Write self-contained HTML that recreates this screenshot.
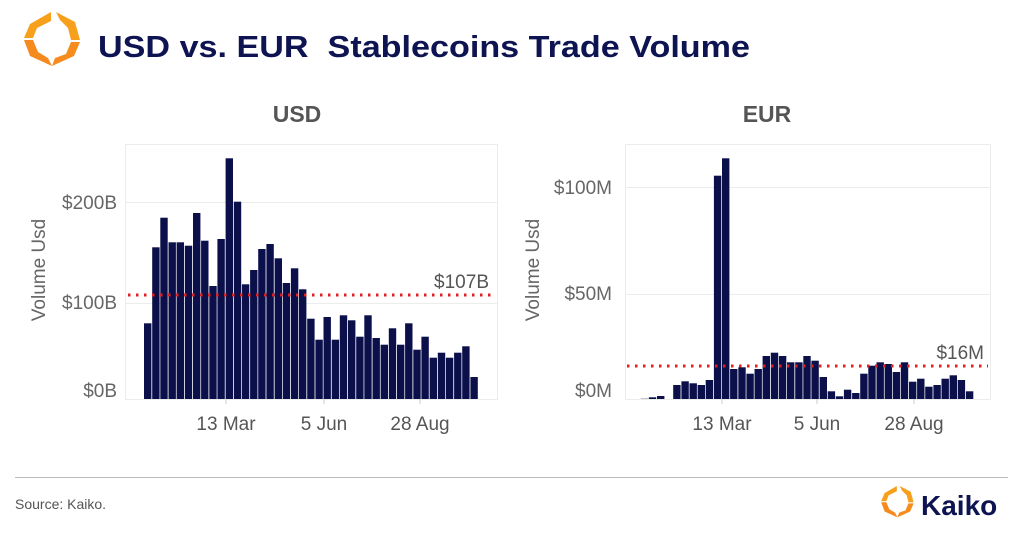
<!DOCTYPE html>
<html><head><meta charset="utf-8"><style>
html,body{margin:0;padding:0;background:#fff;}
svg{display:block;font-family:"Liberation Sans",Arial,sans-serif;}
</style></head><body>
<svg width="1024" height="537" viewBox="0 0 1024 537" xmlns="http://www.w3.org/2000/svg">
<g>
<polygon points="51,12 30,24 24,38 33,38 37,28 51,21" fill="#f7a01c"/>
<polygon points="24,40 33,40 38,52 48,58 52,66 30,56" fill="#f58a1f"/>
<polygon points="56,12 75,22 80,40 71,40 68,28 60,20" fill="#f7a01c"/>
<polygon points="80,42 71,42 66,54 55,58 52,66 74,56" fill="#f68c1e"/>
</g>
<text x="98" y="57" font-size="31" font-weight="bold" fill="#0e1352" textLength="652" lengthAdjust="spacingAndGlyphs">USD vs. EUR&#160; Stablecoins Trade Volume</text>
<text x="297" y="122" font-size="23" font-weight="bold" fill="#555" text-anchor="middle">USD</text>
<text x="767" y="122" font-size="23" font-weight="bold" fill="#555" text-anchor="middle">EUR</text>

<g stroke="#ececec" stroke-width="1" fill="none">
<rect x="125.5" y="144.5" width="372" height="255"/>
<line x1="125" y1="202.5" x2="497" y2="202.5"/>
<line x1="125" y1="303.5" x2="497" y2="303.5"/>
<rect x="625.5" y="144.5" width="365" height="255"/>
<line x1="625" y1="187.5" x2="990" y2="187.5"/>
<line x1="625" y1="294.5" x2="990" y2="294.5"/>
</g>
<g fill="#666" font-size="19" text-anchor="end">
<text x="117" y="209">$200B</text>
<text x="117" y="309">$100B</text>
<text x="117" y="397">$0B</text>
<text x="612" y="194">$100M</text>
<text x="612" y="300">$50M</text>
<text x="612" y="397">$0M</text>
</g>
<text transform="translate(45,270) rotate(-90)" font-size="19" fill="#666" text-anchor="middle">Volume Usd</text>
<text transform="translate(539,270) rotate(-90)" font-size="19" fill="#666" text-anchor="middle">Volume Usd</text>
<g fill="#555" font-size="19" text-anchor="middle">
<text x="226" y="430">13 Mar</text>
<text x="324" y="430">5 Jun</text>
<text x="420" y="430">28 Aug</text>
<text x="722" y="430">13 Mar</text>
<text x="817" y="430">5 Jun</text>
<text x="914" y="430">28 Aug</text>
</g>
<g stroke="#ccc"><line x1="226" y1="399" x2="226" y2="404"/><line x1="324" y1="399" x2="324" y2="404"/><line x1="420" y1="399" x2="420" y2="404"/><line x1="722" y1="399" x2="722" y2="404"/><line x1="817" y1="399" x2="817" y2="404"/><line x1="914" y1="399" x2="914" y2="404"/></g>

<g fill="#0b0f4a">
<rect x="144.0" y="323.3" width="7.4" height="75.7"/>
<rect x="152.2" y="247.3" width="7.4" height="151.7"/>
<rect x="160.3" y="217.7" width="7.4" height="181.3"/>
<rect x="168.5" y="242.3" width="7.4" height="156.7"/>
<rect x="176.6" y="242.3" width="7.4" height="156.7"/>
<rect x="184.8" y="245.7" width="7.4" height="153.3"/>
<rect x="193.0" y="213" width="7.4" height="186"/>
<rect x="201.1" y="240.7" width="7.4" height="158.3"/>
<rect x="209.3" y="286" width="7.4" height="113"/>
<rect x="217.4" y="239" width="7.4" height="160"/>
<rect x="225.6" y="158.3" width="7.4" height="240.7"/>
<rect x="233.8" y="201.7" width="7.4" height="197.3"/>
<rect x="241.9" y="284.3" width="7.4" height="114.7"/>
<rect x="250.1" y="270" width="7.4" height="129"/>
<rect x="258.2" y="249" width="7.4" height="150"/>
<rect x="266.4" y="244" width="7.4" height="155"/>
<rect x="274.6" y="258.3" width="7.4" height="140.7"/>
<rect x="282.7" y="283" width="7.4" height="116"/>
<rect x="290.9" y="268.3" width="7.4" height="130.7"/>
<rect x="299.0" y="289.3" width="7.4" height="109.7"/>
<rect x="307.2" y="318.7" width="7.4" height="80.3"/>
<rect x="315.4" y="339.7" width="7.4" height="59.3"/>
<rect x="323.5" y="317" width="7.4" height="82"/>
<rect x="331.7" y="339.7" width="7.4" height="59.3"/>
<rect x="339.8" y="315.3" width="7.4" height="83.7"/>
<rect x="348.0" y="320.3" width="7.4" height="78.7"/>
<rect x="356.2" y="336.7" width="7.4" height="62.3"/>
<rect x="364.3" y="315.3" width="7.4" height="83.7"/>
<rect x="372.5" y="338" width="7.4" height="61"/>
<rect x="380.6" y="344.7" width="7.4" height="54.3"/>
<rect x="388.8" y="328.3" width="7.4" height="70.7"/>
<rect x="397.0" y="344.7" width="7.4" height="54.3"/>
<rect x="405.1" y="323.3" width="7.4" height="75.7"/>
<rect x="413.3" y="349.7" width="7.4" height="49.3"/>
<rect x="421.4" y="336.7" width="7.4" height="62.3"/>
<rect x="429.6" y="357.7" width="7.4" height="41.3"/>
<rect x="437.8" y="352.7" width="7.4" height="46.3"/>
<rect x="445.9" y="357.7" width="7.4" height="41.3"/>
<rect x="454.1" y="352.7" width="7.4" height="46.3"/>
<rect x="462.2" y="346.3" width="7.4" height="52.7"/>
<rect x="470.4" y="377" width="7.4" height="22"/>

<rect x="640.7" y="398.3" width="7.4" height="0.7" fill="#aab"/>
<rect x="648.8" y="397.3" width="7.4" height="1.7"/>
<rect x="657.0" y="396" width="7.4" height="3"/>
<rect x="673.2" y="385" width="7.4" height="14"/>
<rect x="681.4" y="381.3" width="7.4" height="17.7"/>
<rect x="689.5" y="383.3" width="7.4" height="15.7"/>
<rect x="697.6" y="385" width="7.4" height="14"/>
<rect x="705.7" y="380" width="7.4" height="19"/>
<rect x="713.9" y="175.7" width="7.4" height="223.3"/>
<rect x="722.0" y="158.3" width="7.4" height="240.7"/>
<rect x="730.1" y="369" width="7.4" height="30"/>
<rect x="738.3" y="367.3" width="7.4" height="31.7"/>
<rect x="746.4" y="373.7" width="7.4" height="25.3"/>
<rect x="754.5" y="369" width="7.4" height="30"/>
<rect x="762.6" y="356" width="7.4" height="43"/>
<rect x="770.8" y="352.7" width="7.4" height="46.3"/>
<rect x="778.9" y="356" width="7.4" height="43"/>
<rect x="787.0" y="362.3" width="7.4" height="36.7"/>
<rect x="795.2" y="362.3" width="7.4" height="36.7"/>
<rect x="803.3" y="356" width="7.4" height="43"/>
<rect x="811.4" y="360.7" width="7.4" height="38.3"/>
<rect x="819.6" y="377" width="7.4" height="22"/>
<rect x="827.7" y="391.3" width="7.4" height="7.7"/>
<rect x="835.8" y="396.3" width="7.4" height="2.7"/>
<rect x="843.9" y="389.7" width="7.4" height="9.3"/>
<rect x="852.1" y="393" width="7.4" height="6"/>
<rect x="860.2" y="373.7" width="7.4" height="25.3"/>
<rect x="868.3" y="365.7" width="7.4" height="33.3"/>
<rect x="876.5" y="362.3" width="7.4" height="36.7"/>
<rect x="884.6" y="364" width="7.4" height="35"/>
<rect x="892.7" y="372" width="7.4" height="27"/>
<rect x="900.8" y="362.3" width="7.4" height="36.7"/>
<rect x="909.0" y="381.7" width="7.4" height="17.3"/>
<rect x="917.1" y="378.7" width="7.4" height="20.3"/>
<rect x="925.2" y="386.7" width="7.4" height="12.3"/>
<rect x="933.4" y="385" width="7.4" height="14"/>
<rect x="941.5" y="378.7" width="7.4" height="20.3"/>
<rect x="949.6" y="375.3" width="7.4" height="23.7"/>
<rect x="957.7" y="380" width="7.4" height="19"/>
<rect x="965.9" y="391.3" width="7.4" height="7.7"/>
</g>

<g stroke="#e02020" stroke-width="3" stroke-dasharray="2.5 5.5">
<line x1="128" y1="295" x2="492" y2="295"/>
<line x1="627" y1="366" x2="988" y2="366"/>
</g>
<text x="489" y="288" font-size="19" fill="#555" text-anchor="end">$107B</text>
<text x="984" y="359" font-size="19" fill="#555" text-anchor="end">$16M</text>

<line x1="15" y1="477.5" x2="1008" y2="477.5" stroke="#bbb" stroke-width="1"/>
<text x="15" y="509" font-size="14" fill="#555">Source: Kaiko.</text>
<g transform="translate(880,486) scale(0.58)">
<g transform="translate(-22,-12)">
<polygon points="51,12 30,24 24,38 33,38 37,28 51,21" fill="#f7a01c"/>
<polygon points="24,40 33,40 38,52 48,58 52,66 30,56" fill="#f58a1f"/>
<polygon points="56,12 75,22 80,40 71,40 68,28 60,20" fill="#f7a01c"/>
<polygon points="80,42 71,42 66,54 55,58 52,66 74,56" fill="#f68c1e"/>
</g>
</g>
<text x="921" y="515" font-size="28" font-weight="bold" fill="#0e1352">Kaiko</text>
</svg>
</body></html>
